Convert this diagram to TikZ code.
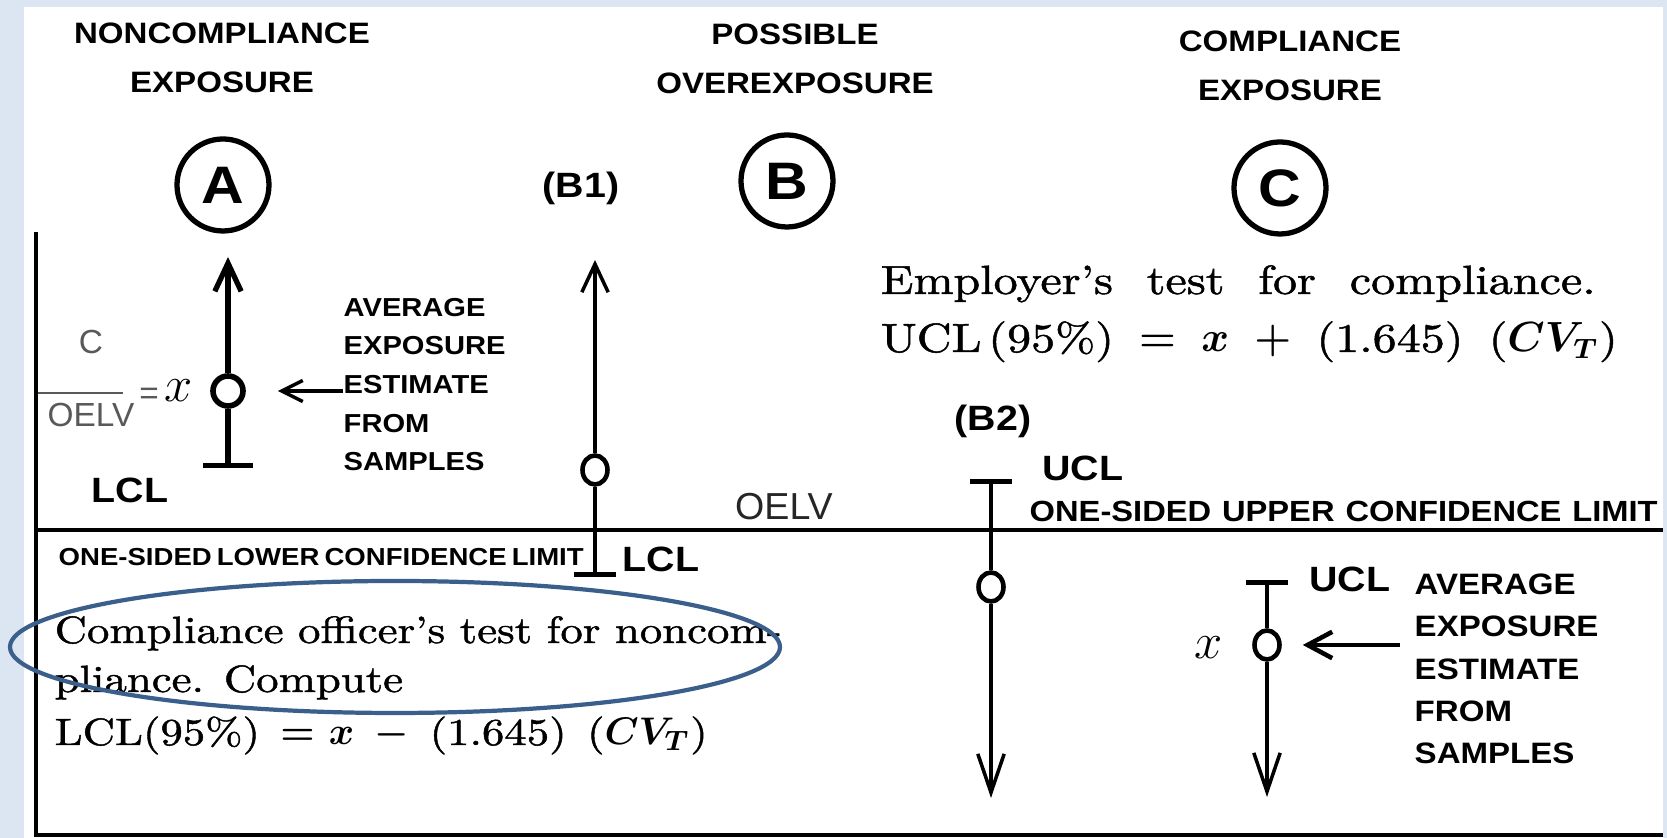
\documentclass[tikz,border=0pt]{standalone}
\usepackage{fontspec}
\usetikzlibrary{arrows.meta,shapes.geometric}
\newfontfamily\capsfont[FakeStretch=1.12]{Liberation Sans}
\newfontfamily\plainsans{Liberation Sans}
\newfontfamily\testfont[Ligatures=TeX,FakeStretch=1.18,FakeBold=1.2]{lmroman10-regular.otf}
\definecolor{bgblue}{HTML}{DCE6F2}
\definecolor{ringblue}{HTML}{3A5F8B}
\tikzset{>={Straight Barb[length=8pt,width=7.5pt]}}
\tikzset{
  casecircle/.style={circle, draw, line width=1.5pt, minimum size=0.92cm, inner sep=0pt,
    font=\capsfont\bfseries\fontsize{15}{15}\selectfont},
  heading/.style={align=center, inner sep=0pt, font=\capsfont\bfseries\fontsize{8.4}{14}\selectfont},
  limtag/.style={inner sep=0pt, font=\capsfont\bfseries\fontsize{10}{12}\selectfont},
  meanmark/.style={ellipse, draw, line width=1.3pt, minimum width=0.25cm, minimum height=0.29cm,
    inner sep=0pt, fill=white},
  whisker/.style={line width=1pt},
  limbar/.style={-{Bar[width=12pt,line width=1.3pt]}},
  downtip/.style={-{Straight Barb[length=11pt,width=7.5pt]}},
  notes/.style={align=left, inner sep=0pt, anchor=west},
  serifline/.style={anchor=base west, inner sep=0pt},
  fracpart/.style={inner sep=0pt, text=black!65, font=\plainsans\fontsize{9.5}{11}\selectfont}
}

\begin{document}
\begin{tikzpicture}
    % backdrop and frame
    \fill[bgblue] (0,0) rectangle (16.67,8.38);
    \fill[white] (0.24,0) rectangle (16.63,8.31);
    \draw[line width=1.4pt] (0.36,6.06) -- (0.36,0.03) -- (16.63,0.03);
    \draw[line width=0.9pt] (0.36,3.08) -- (16.63,3.08);
    \node[inner sep=0pt, text=black!85, font=\plainsans\fontsize{10.7}{12}\selectfont] (oelv) at (7.84,3.31) {OELV};

    % column headings
    \node[heading] (headA) at (2.22,7.80) {NONCOMPLIANCE\\EXPOSURE};
    \node[heading] (headB) at (7.95,7.79) {POSSIBLE\\OVEREXPOSURE};
    \node[heading] (headC) at (12.90,7.72) {COMPLIANCE\\EXPOSURE};
    \node[casecircle] (circA) at (2.23,6.53) {A};
    \node[casecircle] (circB) at (7.87,6.57) {B};
    \node[casecircle] (circC) at (12.80,6.50) {C};
    \node[limtag] (tagB1) at (5.81,6.50) {(B1)};
    \node[limtag] (tagB2) at (9.93,4.17) {(B2)};

    % case A
    \node[meanmark, line width=1.6pt, minimum width=0.3cm, minimum height=0.3cm] (dotA) at (2.28,4.47) {};
    \coordinate (tipA) at (2.28,5.81);
    \coordinate (lclA) at (2.28,3.70);
    \draw[whisker, line width=1.5pt, ->] (dotA) -- (tipA);
    \draw[whisker, line width=1.5pt, -{Bar[width=14pt,line width=1.5pt]}] (dotA) -- (lclA);
    \node[limtag] (lclAtag) at (1.30,3.48) {LCL};
    \node[fracpart] (fracC) at (0.91,4.96) {C};
    \node[fracpart] (fracO) at (0.91,4.23) {OELV};
    \draw[black!65, line width=0.6pt] (0.38,4.45) -- (1.23,4.45);
    \node[fracpart] (fracEq) at (1.49,4.42) {=};
    \node[inner sep=0pt, font=\fontsize{14}{16}\selectfont] (xA) at (1.79,4.47) {$x$};
    \node[notes, font=\capsfont\bfseries\fontsize{7.4}{11}\selectfont] (avgA) at (3.43,4.535)
        {AVERAGE\\EXPOSURE\\ESTIMATE\\FROM\\SAMPLES};
    \draw[whisker, -{Straight Barb[length=6pt,width=6pt]}, shorten >=0.32cm] (avgA.west |- dotA) -- (dotA.east);

    % case B1
    \node[meanmark] (dotB1) at (5.95,3.68) {};
    \coordinate (tipB1) at (5.95,5.78);
    \coordinate (lclB1) at (5.95,2.61);
    \draw[whisker, ->] (dotB1) -- (tipB1);
    \draw[whisker, limbar] (dotB1) -- (lclB1);
    \node[limtag] (lclB1tag) at (6.61,2.79) {LCL};
    \node[anchor=west, inner sep=0pt, font=\capsfont\bfseries\fontsize{7}{8}\selectfont] (lowlim) at (0.58,2.81)
        {\makebox[5.14cm][s]{ONE-SIDED LOWER CONFIDENCE LIMIT}};

    % case B2
    \node[meanmark] (dotB2) at (9.91,2.51) {};
    \coordinate (uclB2) at (9.91,3.59);
    \coordinate (tipB2) at (9.91,0.40);
    \draw[whisker, limbar] (dotB2) -- (uclB2);
    \draw[whisker, downtip] (dotB2) -- (tipB2);
    \node[limtag] (uclB2tag) at (10.83,3.70) {UCL};
    \node[anchor=west, inner sep=0pt, font=\capsfont\bfseries\fontsize{8.3}{9}\selectfont] (uplim) at (10.29,3.27)
        {\makebox[6.28cm][s]{ONE-SIDED UPPER CONFIDENCE LIMIT}};

    % case C
    \node[meanmark] (dotC) at (12.67,1.93) {};
    \coordinate (uclC) at (12.67,2.58);
    \coordinate (tipC) at (12.67,0.41);
    \draw[whisker, limbar] (dotC) -- (uclC);
    \draw[whisker, downtip] (dotC) -- (tipC);
    \node[limtag] (uclCtag) at (13.50,2.59) {UCL};
    \node[inner sep=0pt, font=\fontsize{14}{16}\selectfont] (xC) at (12.09,1.90) {$x$};
    \node[notes, font=\capsfont\bfseries\fontsize{8.4}{12}\selectfont] (avgC) at (14.14,1.69)
        {AVERAGE\\EXPOSURE\\ESTIMATE\\FROM\\SAMPLES};
    \draw[whisker, line width=1.3pt, -{Straight Barb[length=7pt,width=7.5pt]}, shorten <=0.14cm, shorten >=0.21cm]
        (avgC.west |- dotC) -- (dotC.east);

    % tests
    \node[serifline, font=\testfont\boldmath\fontsize{11.6}{14}\selectfont] (empl1) at (8.80,5.44)
        {\makebox[7.15cm][s]{Employer's test for compliance.}};
    \node[serifline, font=\testfont\boldmath\fontsize{11.6}{14}\selectfont] (empl2) at (8.80,4.86)
        {\makebox[7.37cm][s]{UCL\,(95\%) $=$ $x$ $+$ (1.645) ($CV_T$)}};
    \node[serifline, font=\testfont\boldmath\fontsize{10.8}{13}\selectfont] (offc1) at (0.54,1.95)
        {\makebox[7.27cm][s]{Compliance officer's test for noncom-}};
    \node[serifline, font=\testfont\boldmath\fontsize{10.8}{13}\selectfont] (offc2) at (0.54,1.46) {pliance. Compute};
    \node[serifline, font=\testfont\boldmath\fontsize{10.8}{13}\selectfont] (offc3) at (0.54,0.93)
        {\makebox[6.53cm][s]{LCL(95\%) $=\!x$ $-$ (1.645) ($CV_T$)}};
    \draw[ringblue, line width=1.2pt] (3.95,1.91) ellipse (3.85 and 0.66);
\end{tikzpicture}
\end{document}
